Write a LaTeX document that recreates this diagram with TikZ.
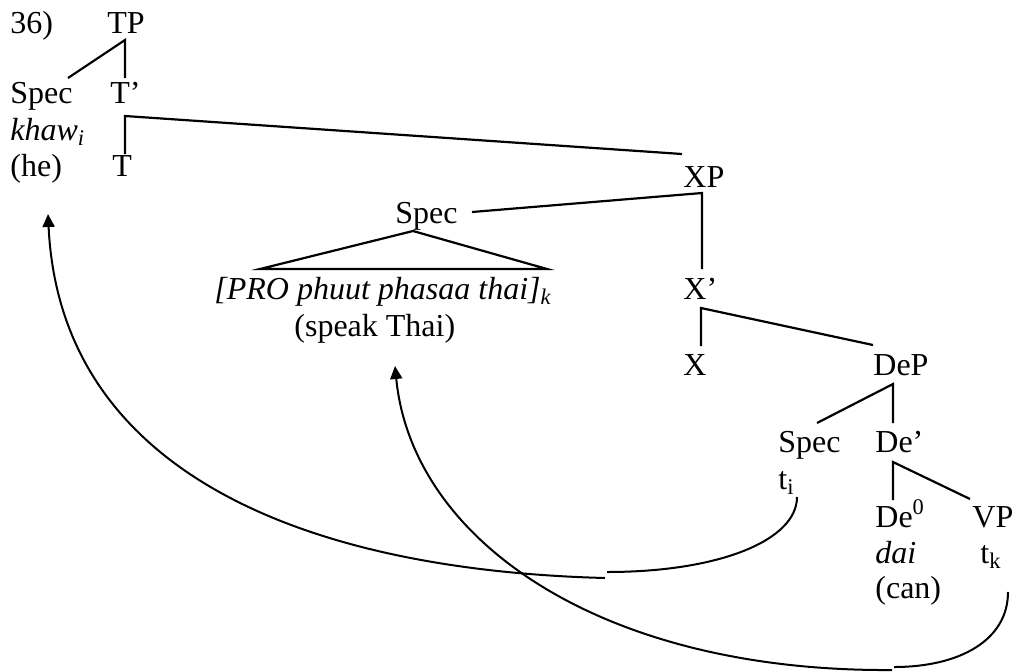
\documentclass[tikz,border=0pt]{standalone}
\usepackage{fontspec}
\setmainfont{Liberation Serif}
\usetikzlibrary{arrows.meta}
\begin{document}
\begin{tikzpicture}[x=0.5pt,y=-0.5pt,
  lbl/.style={anchor=base west, inner sep=0pt, font=\fontsize{16}{19}\selectfont},
  branch/.style={line width=1.1pt, line cap=butt},
  move/.style={line width=1pt},
  movearrow/.style={move, -{Triangle[width=6pt,length=6.5pt]}}]
\useasboundingbox (0,0) rectangle (1013,671);
% labels
\node[lbl] (num) at (10,33) {36)};
\node[lbl] (TP) at (107,33) {TP};
\node[lbl] (spec1) at (10,103) {Spec};
\node[lbl] (Tbar) at (110,103) {T’};
\node[lbl] (khaw) at (10,140) {\textit{khaw\textsubscript{i}}};
\node[lbl] (he) at (10,176) {(he)};
\node[lbl] (T) at (112,176) {T};
\node[lbl] (XP) at (683,187) {XP};
\node[lbl] (spec2) at (395,223) {Spec};
\node[lbl] (pro) at (214,299) {\textit{[PRO phuut phasaa thai]\textsubscript{k}}};
\node[lbl] (speak) at (294,336) {(speak Thai)};
\node[lbl] (Xbar) at (683,299) {X’};
\node[lbl] (X) at (683,375) {X};
\node[lbl] (DeP) at (873,375) {DeP};
\node[lbl] (spec3) at (778,452) {Spec};
\node[lbl] (Debar) at (875,452) {De’};
\node[lbl] (ti) at (778,489) {t\textsubscript{i}};
\node[lbl] (De0) at (875,527) {De\textsuperscript{0}};
\node[lbl] (VP) at (972,527) {VP};
\node[lbl] (dai) at (875,563) {\textit{dai}};
\node[lbl] (tk) at (980,563) {t\textsubscript{k}};
\node[lbl] (can) at (875,598) {(can)};
% branch points
\coordinate (tpA) at (125,40);
\coordinate (tpL) at (68,78);
\coordinate (tpR) at (125,78);
\coordinate (tbA) at (125,116);
\coordinate (tbL) at (125,154);
\coordinate (tbR) at (682,154);
\coordinate (xpA) at (702,193);
\coordinate (xpL) at (472,212);
\coordinate (xpR) at (702,269);
\coordinate (spA) at (413,231);
\coordinate (spL) at (260,269);
\coordinate (spR) at (547,269);
\coordinate (xbA) at (701,308);
\coordinate (xbL) at (701,346);
\coordinate (xbR) at (873,345);
\coordinate (dpA) at (893,384);
\coordinate (dpL) at (817,423);
\coordinate (dpR) at (893,423);
\coordinate (dbA) at (893,462);
\coordinate (dbL) at (893,500);
\coordinate (dbR) at (970,499);
\draw[branch] (tpL) -- (tpA) -- (tpR);
\draw[branch] (tbL) -- (tbA) -- (tbR);
\draw[branch] (xpL) -- (xpA) -- (xpR);
\draw[branch] (spL) -- (spA) -- (spR) -- cycle;
\draw[branch] (xbL) -- (xbA) -- (xbR);
\draw[branch] (dpL) -- (dpA) -- (dpR);
\draw[branch] (dbL) -- (dbA) -- (dbR);
% movement arrows
\coordinate (m1s) at (797,497);
\coordinate (m1j) at (607,572);
\coordinate (m1k) at (605,578);
\coordinate (m1e) at (48,214);
\draw[move] (m1s) .. controls (797,540) and (720,572) .. (m1j);
\draw[movearrow] (m1k) .. controls (300,570) and (60,470) .. (m1e);
\coordinate (m2s) at (1008,592);
\coordinate (m2j) at (894,667);
\coordinate (m2k) at (892,670);
\coordinate (m2e) at (395,366);
\draw[move] (m2s) .. controls (1008,640) and (960,667) .. (m2j);
\draw[movearrow] (m2k) .. controls (600,672) and (412,540) .. (m2e);
\end{tikzpicture}
\end{document}
